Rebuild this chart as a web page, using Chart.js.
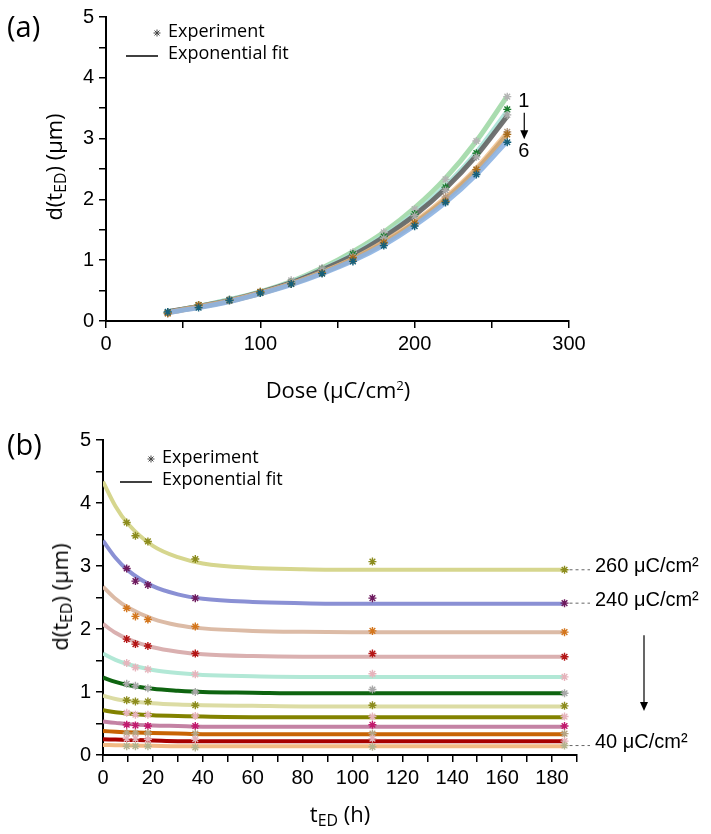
<!DOCTYPE html>
<html>
<head>
<meta charset="utf-8">
<script src="https://cdn.jsdelivr.net/npm/chart.js@4.4.1/dist/chart.umd.min.js"></script>
<style>
body { margin: 0; background: #fff; }
#wrap { position: relative; width: 711px; height: 834px; background: #fff; }
canvas { position: absolute; left: 0; }
.lbl { position: absolute; font-family: 'Open Sans', sans-serif; color: #000; white-space: nowrap; line-height: 1; }
.ytitle { transform: translate(-50%, -50%) rotate(-90deg); font-size: 22px; }
.xtitle { transform: translate(-50%, -50%); font-size: 22px; }
.panel { transform: translateY(-50%); font-size: 29px; }
sub { font-size: 0.72em; vertical-align: -0.28em; line-height: 0; }
sup { font-size: 0.6em; vertical-align: 0.6em; line-height: 0; }
</style>
</head>
<body>
<div id="wrap">
  <canvas id="chartA" width="711" height="417" style="top:0"></canvas>
  <canvas id="chartB" width="711" height="417" style="top:417px"></canvas>
  <div class="lbl panel" style="left:7px;top:25px">(a)</div>
  <div class="lbl panel" style="left:7px;top:443px">(b)</div>
  <div class="lbl ytitle" style="left:53px;top:167px">d(t<sub>ED</sub>) (μm)</div>
  <div class="lbl ytitle" style="left:59px;top:597px">d(t<sub>ED</sub>) (μm)</div>
  <div class="lbl xtitle" style="left:338px;top:389px">Dose (μC/cm<sup>2</sup>)</div>
  <div class="lbl xtitle" style="left:340px;top:813px">t<sub>ED</sub> (h)</div>
</div>
<script>
// doses (µC/cm2) and development times (h)
const doses = [40, 60, 80, 100, 120, 140, 160, 180, 200, 220, 240, 260];
const times = [9.5, 13, 18, 37, 108, 185];

// measured depth per dose, one value per development time
const exp40  = [0.14, 0.14, 0.14, 0.12, 0.13, 0.15];
const exp60  = [0.26, 0.26, 0.25, 0.25, 0.26, 0.22];
const exp80  = [0.35, 0.35, 0.35, 0.34, 0.34, 0.34];
const exp100 = [0.48, 0.47, 0.46, 0.46, 0.48, 0.46];
const exp120 = [0.67, 0.64, 0.64, 0.62, 0.61, 0.61];
const exp140 = [0.87, 0.85, 0.85, 0.79, 0.79, 0.78];
const exp160 = [1.13, 1.10, 1.06, 1.00, 1.04, 0.98];
const exp180 = [1.46, 1.39, 1.36, 1.28, 1.29, 1.24];
const exp200 = [1.84, 1.76, 1.73, 1.61, 1.61, 1.56];
const exp220 = [2.33, 2.20, 2.15, 2.04, 1.97, 1.95];
const exp240 = [2.96, 2.76, 2.70, 2.49, 2.49, 2.41];
const exp260 = [3.69, 3.48, 3.39, 3.11, 3.07, 2.94];
const expByDose = [exp40, exp60, exp80, exp100, exp120, exp140, exp160, exp180, exp200, exp220, exp240, exp260];

// fitted curves of panel (b), read at these times
const fitTimes = [0, 5, 10, 20, 30, 40, 60, 80, 100, 140, 185];
const fit40  = [0.16, 0.155, 0.15, 0.145, 0.14, 0.14, 0.14, 0.14, 0.14, 0.14, 0.14];
const fit60  = [0.25, 0.245, 0.24, 0.23, 0.22, 0.22, 0.22, 0.22, 0.22, 0.22, 0.22];
const fit80  = [0.38, 0.37, 0.36, 0.35, 0.34, 0.33, 0.33, 0.33, 0.33, 0.33, 0.33];
const fit100 = [0.53, 0.51, 0.49, 0.47, 0.46, 0.45, 0.45, 0.45, 0.45, 0.45, 0.45];
const fit120 = [0.71, 0.68, 0.66, 0.63, 0.62, 0.61, 0.60, 0.60, 0.60, 0.60, 0.60];
const fit140 = [0.94, 0.89, 0.86, 0.82, 0.80, 0.79, 0.78, 0.77, 0.77, 0.77, 0.77];
const fit160 = [1.23, 1.16, 1.11, 1.05, 1.02, 1.00, 0.99, 0.98, 0.98, 0.98, 0.98];
const fit180 = [1.61, 1.51, 1.44, 1.35, 1.30, 1.27, 1.25, 1.24, 1.24, 1.24, 1.24];
const fit200 = [2.08, 1.94, 1.84, 1.71, 1.64, 1.60, 1.57, 1.56, 1.56, 1.56, 1.56];
const fit220 = [2.67, 2.48, 2.34, 2.16, 2.06, 2.01, 1.97, 1.955, 1.95, 1.95, 1.95];
const fit240 = [3.40, 3.13, 2.93, 2.68, 2.55, 2.48, 2.43, 2.41, 2.40, 2.40, 2.40];
const fit260 = [4.34, 3.95, 3.67, 3.32, 3.14, 3.04, 2.97, 2.95, 2.94, 2.94, 2.94];
const fitByDose = [fit40, fit60, fit80, fit100, fit120, fit140, fit160, fit180, fit200, fit220, fit240, fit260];

// fitted curves of panel (a), one per development time, at each dose
const fitT1 = [0.15, 0.24, 0.35, 0.48, 0.65, 0.87, 1.14, 1.46, 1.86, 2.35, 2.96, 3.70];
const fitT2 = [0.15, 0.24, 0.35, 0.47, 0.64, 0.85, 1.10, 1.40, 1.77, 2.22, 2.77, 3.45];
const fitT3 = [0.15, 0.24, 0.34, 0.47, 0.63, 0.84, 1.08, 1.38, 1.74, 2.18, 2.72, 3.37];
const fitT4 = [0.14, 0.23, 0.33, 0.46, 0.61, 0.80, 1.02, 1.30, 1.63, 2.03, 2.51, 3.10];
const fitT5 = [0.14, 0.23, 0.33, 0.45, 0.61, 0.79, 1.01, 1.28, 1.61, 2.00, 2.48, 3.06];
const fitT6 = [0.14, 0.22, 0.32, 0.45, 0.60, 0.78, 0.99, 1.25, 1.57, 1.95, 2.41, 2.96];
const fitByTime = [fitT1, fitT2, fitT3, fitT4, fitT5, fitT6];

// colours
const lineColorsA = ['rgba(160,216,166,0.9)', 'rgba(168,226,214,0.9)', 'rgba(100,100,100,0.9)',
                     'rgba(240,192,140,0.85)', 'rgba(200,160,110,0.8)', 'rgba(140,178,226,0.9)'];
const starColorsA = ['#b4b4b4', '#1b7d2e', '#a8a8a8', '#b89c84', '#a86c1c', '#16607a'];
const lineColorsB = ['#f2ba84', '#a80000', '#c86404', '#c482a4', '#828200', '#dcdca4',
                     '#0e6410', '#b2e8d6', '#dab0b0', '#dcbba6', '#8a90d4', '#d6d68e'];
const starColorsB = ['#b4b48e', '#e2b2ba', '#b4a484', '#c21a6e', '#e6b4bc', '#8c8c1e',
                     '#a8a8a8', '#e6b4bc', '#b41616', '#d4761c', '#6e1a5e', '#8c8c1e'];

const tickFont = { family: "'Liberation Sans', Arial, sans-serif", size: 20 };

function makeAxis(min, max, step, labelStep, fixedSize, isX) {
    return {
        type: 'linear',
        min: min,
        max: max,
        border: { display: true, color: '#000', width: 2 },
        grid: { drawOnChartArea: false, drawTicks: true, color: '#000', lineWidth: 1.5, tickLength: 7 },
        ticks: {
            stepSize: step,
            autoSkip: false,
            maxRotation: 0,
            color: '#000',
            font: tickFont,
            padding: isX ? 4 : 5,
            callback: function (v) {
                var r = Math.round(v / labelStep * 1000) / 1000;
                return Number.isInteger(r) ? String(Math.round(v)) : '';
            }
        },
        afterFit: function (scale) {
            if (isX) { scale.height = fixedSize; } else { scale.width = fixedSize; }
        }
    };
}

function drawStar(ctx, x, y, r, color) {
    ctx.save();
    ctx.strokeStyle = color;
    ctx.lineWidth = 1;
    ctx.beginPath();
    for (var a = 0; a < 4; a++) {
        var ang = a * Math.PI / 4;
        ctx.moveTo(x - r * Math.cos(ang), y - r * Math.sin(ang));
        ctx.lineTo(x + r * Math.cos(ang), y + r * Math.sin(ang));
    }
    ctx.stroke();
    ctx.restore();
}

function drawArrow(ctx, x, y0, y1) {
    ctx.save();
    ctx.strokeStyle = '#000';
    ctx.fillStyle = '#000';
    ctx.lineWidth = 1.2;
    ctx.beginPath();
    ctx.moveTo(x, y0);
    ctx.lineTo(x, y1 - 6);
    ctx.stroke();
    ctx.beginPath();
    ctx.moveTo(x - 4, y1 - 9);
    ctx.lineTo(x + 4, y1 - 9);
    ctx.lineTo(x, y1);
    ctx.closePath();
    ctx.fill();
    ctx.restore();
}

function drawLegend(ctx, x, y) {
    ctx.save();
    drawStar(ctx, x + 31, y + 1, 3.5, '#444');
    ctx.strokeStyle = '#000';
    ctx.lineWidth = 1.5;
    ctx.beginPath();
    ctx.moveTo(x, y + 24);
    ctx.lineTo(x + 32, y + 24);
    ctx.stroke();
    ctx.fillStyle = '#000';
    ctx.font = "18px 'Open Sans', sans-serif";
    ctx.textBaseline = 'middle';
    ctx.fillText('Experiment', x + 42, y);
    ctx.fillText('Exponential fit', x + 42, y + 22);
    ctx.restore();
}

function starSet(points, color) {
    return {
        data: points,
        showLine: false,
        order: 0,
        pointStyle: 'star',
        pointRadius: 4,
        pointBorderWidth: 1.4,
        pointBorderColor: color,
        pointBackgroundColor: color
    };
}

function fitSet(points, color, width) {
    return {
        data: points,
        showLine: true,
        order: 1,
        pointRadius: 0,
        borderColor: color,
        borderWidth: width,
        cubicInterpolationMode: 'monotone',
        fill: false
    };
}

// panel (a): depth vs dose, one curve per development time
// the first dataset is painted last, so time 6 goes first to sit on top
var datasetsA = [];
for (var k = times.length - 1; k >= 0; k--) {
    datasetsA.push(starSet(doses.map(function (d, i) { return { x: d, y: expByDose[i][k] }; }), starColorsA[k]));
}
for (var k = times.length - 1; k >= 0; k--) {
    datasetsA.push(fitSet(doses.map(function (d, i) { return { x: d, y: fitByTime[k][i] }; }), lineColorsA[k], 5));
}

var notesA = {
    id: 'notesA',
    afterDraw: function (chart) {
        var ctx = chart.ctx;
        var xs = chart.scales.x, ys = chart.scales.y;
        drawLegend(ctx, 126, 32);
        var xl = xs.getPixelForValue(doses[doses.length - 1]) + 11;
        var yTop = ys.getPixelForValue(exp260[0]);
        var yBot = ys.getPixelForValue(exp260[exp260.length - 1]);
        ctx.save();
        ctx.fillStyle = '#000';
        ctx.font = "20px 'Liberation Sans', Arial, sans-serif";
        ctx.textBaseline = 'middle';
        ctx.fillText('1', xl, yTop + 5);
        ctx.fillText('6', xl, yBot + 9);
        ctx.restore();
        drawArrow(ctx, xl + 6, yTop + 16, yBot - 3);
    }
};

new Chart(document.getElementById('chartA'), {
    type: 'scatter',
    data: { datasets: datasetsA },
    options: {
        responsive: false,
        animation: false,
        events: [],
        layout: { padding: { left: 0, top: 13, right: 142, bottom: 0 } },
        plugins: { legend: { display: false }, tooltip: { enabled: false } },
        scales: {
            x: makeAxis(0, 300, 50, 100, 96, true),
            y: makeAxis(0, 5, 0.5, 1, 106, false)
        }
    },
    plugins: [notesA]
});

// panel (b): depth vs development time, one curve per dose
var datasetsB = [];
for (var i = 0; i < doses.length; i++) {
    datasetsB.push(starSet(times.map(function (t, j) { return { x: t, y: expByDose[i][j] }; }), starColorsB[i]));
}
for (var i = 0; i < doses.length; i++) {
    datasetsB.push(fitSet(fitTimes.map(function (t, j) { return { x: t, y: fitByDose[i][j] }; }), lineColorsB[i], 4));
}

var notesB = {
    id: 'notesB',
    afterDraw: function (chart) {
        var ctx = chart.ctx;
        var xs = chart.scales.x, ys = chart.scales.y;
        drawLegend(ctx, 120, 41);
        var x0 = xs.getPixelForValue(times[times.length - 1]) + 5;
        var x1 = 590;
        var labelled = [11, 10, 0];
        ctx.save();
        ctx.font = "20px 'Liberation Sans', Arial, sans-serif";
        ctx.textBaseline = 'middle';
        labelled.forEach(function (idx) {
            var y = ys.getPixelForValue(expByDose[idx][times.length - 1]);
            ctx.strokeStyle = '#666';
            ctx.lineWidth = 1;
            ctx.setLineDash([3, 3]);
            ctx.beginPath();
            ctx.moveTo(x0, y);
            ctx.lineTo(x1, y);
            ctx.stroke();
            ctx.setLineDash([]);
            ctx.fillStyle = '#000';
            ctx.fillText(doses[idx] + ' μC/cm²', x1 + 5, y - 3);
        });
        ctx.restore();
        drawArrow(ctx, 644, ys.getPixelForValue(1.9), ys.getPixelForValue(0.7));
    }
};

new Chart(document.getElementById('chartB'), {
    type: 'scatter',
    data: { datasets: datasetsB },
    options: {
        responsive: false,
        animation: false,
        events: [],
        layout: { padding: { left: 0, top: 23, right: 134, bottom: 0 } },
        plugins: { legend: { display: false }, tooltip: { enabled: false } },
        scales: {
            x: makeAxis(0, 190, 10, 20, 79, true),
            y: makeAxis(0, 5, 0.5, 1, 103, false)
        }
    },
    plugins: [notesB]
});
</script>
</body>
</html>
